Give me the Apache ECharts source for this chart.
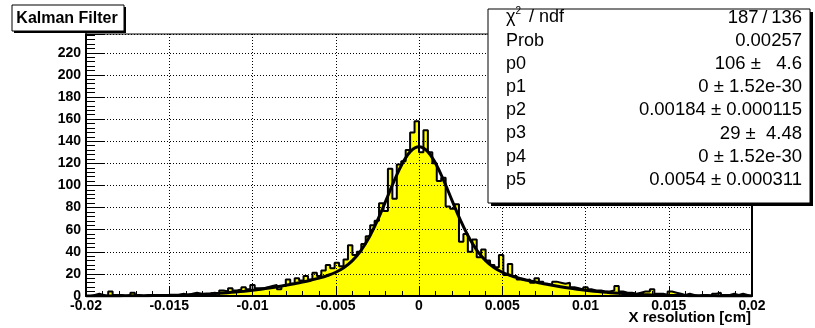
<!DOCTYPE html>
<html><head><meta charset="utf-8">
<script src="https://cdn.jsdelivr.net/npm/echarts@6/dist/echarts.min.js"></script>
<style>html,body{margin:0;padding:0;background:#fff}#c{width:815px;height:328px}</style>
</head><body><div id="c"></div>
<script>
// ---- data ----
const BIN_MIN = -0.02;
const BIN_MAX = 0.02;
const BIN_COUNT = 150;
const counts = [
  0,1,2,1,0,4,1,1,0,1,
  3,1,0,1,1,0,1,1,1,0,
  1,2,1,2,3,2,1,2,3,2,
  5,4,7,5,6,8,6,10,7,7,
  8,9,10,6,9,15,11,16,14,18,
  15,21,18,23,28,25,30,27,33,46,
  37,40,47,54,64,68,84,77,115,88,
  119,122,132,148,158,130,150,130,120,104,
  107,81,79,83,49,56,40,51,35,42,
  32,28,26,37,19,29,18,15,14,15,
  12,16,13,11,10,13,12,11,12,8,
  7,6,8,6,5,5,4,4,5,9,
  4,3,3,2,3,4,4,6,2,2,
  1,4,3,2,1,2,1,0,1,1,
  0,2,3,1,1,2,1,2,1,0
];
// fit curve read at x = -0.02 ... 0.02 every 0.0005
const FIT_X0 = -0.02, FIT_STEP = 0.0005;
const fitY = [
  0.03,0.04,0.06,0.08,0.11,0.15,0.2,0.27,0.36,0.47,0.61,0.79,1.01,1.27,1.6,1.99,2.46,3.0,3.64,4.37,
  5.2,6.15,7.2,8.4,9.7,11.1,12.6,14.3,16.2,18.5,21.5,25.8,32.0,40.9,52.9,68.2,85.8,103.9,119.9,131.1,
  135.0,
  131.1,119.9,103.9,85.8,68.2,52.9,40.9,32.0,25.8,21.5,18.5,16.2,14.3,12.6,11.1,9.7,8.4,7.2,6.15,5.2,
  4.37,3.64,3.0,2.46,1.99,1.6,1.27,1.01,0.79,0.61,0.47,0.36,0.27,0.2,0.15,0.11,0.08,0.06,0.04,0.03
];
const xTickStep = 0.005;
const yTickStep = 20;
const Y_MAX = 237;
const titleText = 'Kalman Filter';
const xTitle = 'X resolution [cm]';
const statNames = ['χ', 'Prob', 'p0', 'p1', 'p2', 'p3', 'p4', 'p5'];
const statValues = ['187\u2009/\u2009136', '0.00257', '106 \u00b1   4.6', '0 \u00b1 1.52e-30',
  '0.00184 \u00b1 0.000115', '29 \u00b1  4.48', '0 \u00b1 1.52e-30', '0.0054 \u00b1 0.000311'];

// ---- build ----
const FONT = '"Liberation Sans", Arial, Helvetica, sans-serif';
const binW = (BIN_MAX - BIN_MIN) / BIN_COUNT;
const histData = [[BIN_MIN, 0]];
counts.forEach((c, i) => histData.push([BIN_MIN + i * binW, c]));
histData.push([BIN_MAX, counts[counts.length - 1]]);
histData.push([BIN_MAX, 0]);
const fitData = fitY.map((v, i) => [FIT_X0 + i * FIT_STEP, v]);

const chart = echarts.init(document.getElementById('c'), null, {renderer: 'canvas', width: 815, height: 328});

const statElems = [];
const boxX = 488, boxY = 9, boxW = 322, boxH = 194;
const rowY0 = 17.5, rowDY = 23.2;
statElems.push({type: 'rect', shape: {x: boxX + 3, y: boxY + 3, width: boxW, height: boxH}, style: {fill: '#000'}, z: 100});
statElems.push({type: 'rect', shape: {x: boxX, y: boxY, width: boxW, height: boxH}, style: {fill: '#fff', stroke: '#000', lineWidth: 1}, z: 101});
statNames.forEach((n, i) => {
  const y = rowY0 + i * rowDY;
  statElems.push({type: 'text', z: 102, style: {text: n, x: 506, y: y, textAlign: 'left', textVerticalAlign: 'middle', font: '18px ' + FONT, fill: '#000'}});
  statElems.push({type: 'text', z: 102, style: {text: statValues[i], x: 802, y: y, textAlign: 'right', textVerticalAlign: 'middle', font: '18.5px ' + FONT, fill: '#000'}});
});
statElems.push({type: 'text', z: 102, style: {text: '2', x: 515.5, y: 11, textAlign: 'left', textVerticalAlign: 'middle', font: '10px ' + FONT, fill: '#000'}});
statElems.push({type: 'text', z: 102, style: {text: '/ ndf', x: 529, y: rowY0, textAlign: 'left', textVerticalAlign: 'middle', font: '18px ' + FONT, fill: '#000'}});

const option = {
  animation: false,
  backgroundColor: '#fff',
  grid: {left: 86, right: 63, top: 34, bottom: 32, show: true, borderColor: '#000', borderWidth: 1, backgroundColor: 'transparent'},
  xAxis: {
    type: 'value', min: BIN_MIN, max: BIN_MAX, interval: xTickStep, z: 3,
    axisLine: {show: true, onZero: false, lineStyle: {color: '#000', width: 2}},
    axisTick: {show: true, inside: true, length: 10, lineStyle: {color: '#000', width: 1}},
    minorTick: {show: true, splitNumber: 5, length: 5, lineStyle: {color: '#000', width: 1}},
    splitLine: {show: true, lineStyle: {color: '#000', width: 1, type: [1, 2]}},
    axisLabel: {color: '#000', fontFamily: FONT, fontWeight: 'bold', fontSize: 14, margin: 3,
      formatter: v => String(+(+v).toFixed(3))}
  },
  yAxis: [{
    type: 'value', min: 0, max: Y_MAX, interval: yTickStep, z: 3,
    axisLine: {show: true, onZero: false, lineStyle: {color: '#000', width: 2}},
    axisTick: {show: true, inside: true, length: 18, lineStyle: {color: '#000', width: 1}},
    minorTick: {show: true, splitNumber: 5, length: 9, lineStyle: {color: '#000', width: 1}},
    splitLine: {show: true, lineStyle: {color: '#000', width: 1, type: [1, 2]}},
    axisLabel: {color: '#000', fontFamily: FONT, fontWeight: 'bold', fontSize: 14, margin: 5,
      formatter: v => (Math.abs(v % yTickStep) < 1e-9 ? String(v) : '')}
  }, {
    type: 'value', min: 0, max: Y_MAX, position: 'right', z: 3,
    axisLine: {show: true, onZero: false, lineStyle: {color: '#000', width: 2}},
    axisTick: {show: false}, axisLabel: {show: false}, splitLine: {show: false}
  }],
  series: [{
    type: 'line', data: histData, step: 'end', symbol: 'none', z: 2,
    lineStyle: {color: '#000', width: 2}, areaStyle: {color: '#ffff00', opacity: 1}
  }, {
    type: 'line', data: fitData, smooth: 0.4, symbol: 'none', z: 5,
    lineStyle: {color: '#000', width: 3}
  }],
  graphic: [
    {type: 'rect', z: 100, shape: {x: 14, y: 7, width: 112, height: 26}, style: {fill: '#000'}},
    {type: 'rect', z: 101, shape: {x: 12, y: 5, width: 112, height: 26}, style: {fill: '#fff', stroke: '#000', lineWidth: 1}},
    {type: 'text', z: 102, style: {text: titleText, x: 67, y: 18.5, textAlign: 'center', textVerticalAlign: 'middle', font: 'bold 16px ' + FONT, fill: '#000'}},
    {type: 'text', z: 102, style: {text: xTitle, x: 751, y: 318, textAlign: 'right', textVerticalAlign: 'middle', font: 'bold 15px ' + FONT, fill: '#000'}}
  ].concat(statElems)
};
chart.setOption(option);
</script>
</body></html>
